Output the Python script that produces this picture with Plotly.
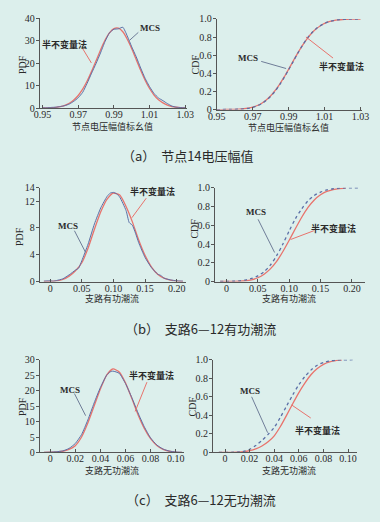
import plotly.graph_objects as go

W, H = 380, 522

# ---------------- data ----------------
# (a) node 14 voltage magnitude
a_x = [0.950, 0.9525, 0.955, 0.9575, 0.960, 0.9625, 0.965, 0.9675, 0.970, 0.9725,
       0.975, 0.9775, 0.980, 0.9825, 0.985, 0.9875, 0.990, 0.9925, 0.995, 0.9975,
       1.000, 1.0025, 1.005, 1.0075, 1.010, 1.0125, 1.015, 1.0175, 1.020, 1.0225,
       1.025, 1.0275, 1.030]
a_pdf_semi = [0.04, 0.08, 0.18, 0.36, 0.68, 1.24, 2.17, 3.59, 5.6, 8.4,
              12.0, 16.3, 21.0, 25.8, 30.1, 33.4, 35.3, 35.5, 33.9, 30.6,
              26.4, 21.6, 16.8, 12.4, 8.7, 5.8, 3.7, 2.3, 1.3, 0.7,
              0.37, 0.18, 0.09]
a_pdf_mcs = [0.1, 0.1, 0.3, 0.4, 0.7, 1.1, 1.8, 3.0, 4.6, 7.0,
             11.0, 15.5, 19.8, 24.5, 29.5, 33.4, 35.0, 35.2, 35.9, 32.0,
             27.2, 22.8, 17.8, 13.2, 9.5, 6.5, 4.5, 3.3, 2.0, 0.9,
             0.4, 0.2, 0.1]
a_cdf_semi = [0.0001, 0.0002, 0.0006, 0.0012, 0.0025, 0.0048, 0.009, 0.016, 0.027, 0.045,
              0.070, 0.106, 0.152, 0.211, 0.281, 0.360, 0.447, 0.535, 0.623, 0.704,
              0.776, 0.837, 0.886, 0.923, 0.951, 0.970, 0.982, 0.990, 0.9945, 0.997,
              0.9986, 0.9993, 0.9997]
a_cdf_mcs = [0.0002, 0.0003, 0.0007, 0.0013, 0.0025, 0.0045, 0.008, 0.014, 0.025, 0.041,
             0.066, 0.101, 0.147, 0.205, 0.275, 0.355, 0.442, 0.530, 0.620, 0.703,
             0.777, 0.839, 0.888, 0.925, 0.952, 0.971, 0.983, 0.991, 0.995, 0.997,
             0.9987, 0.9994, 0.9998]

# (b) branch 6-12 active power flow
b_x_semi = [-0.01, 0.00, 0.01, 0.02, 0.03, 0.04, 0.05, 0.06, 0.07, 0.08, 0.09,
            0.10, 0.11, 0.12, 0.13, 0.14, 0.15, 0.16, 0.17, 0.18, 0.19, 0.20, 0.21]
b_pdf_semi = [0.0, 0.02, 0.1, 0.3, 0.8, 1.6, 2.8, 5.0, 7.8, 10.4, 12.3,
              13.2, 12.9, 11.2, 8.9, 6.2, 3.9, 2.2, 1.1, 0.5, 0.2, 0.06, 0.02]
b_x_mcs = [-0.01, 0.00, 0.005, 0.01, 0.02, 0.03, 0.04, 0.045, 0.05, 0.06, 0.07, 0.08,
           0.09, 0.095, 0.10, 0.105, 0.11, 0.12, 0.125, 0.13, 0.135, 0.14, 0.15,
           0.16, 0.17, 0.175, 0.18, 0.19, 0.20, 0.21]
b_pdf_mcs = [0.05, 0.1, 0.05, 0.15, 0.4, 1.0, 1.7, 2.0, 3.1, 5.6, 8.6, 11.0,
             12.7, 13.2, 13.3, 13.1, 12.6, 10.6, 8.8, 8.4, 7.2, 5.8, 3.6,
             2.1, 1.1, 0.9, 0.5, 0.25, 0.1, 0.05]
b_cx_semi = [-0.01, 0.00, 0.01, 0.02, 0.03, 0.04, 0.05, 0.06, 0.07, 0.08, 0.09,
             0.10, 0.11, 0.12, 0.13, 0.14, 0.15, 0.16, 0.17, 0.18, 0.19]
b_cdf_semi = [0.0, 0.0, 0.001, 0.003, 0.008, 0.018, 0.04, 0.078, 0.135, 0.215, 0.32,
              0.44, 0.565, 0.685, 0.79, 0.87, 0.925, 0.96, 0.98, 0.991, 0.996]
b_cx_mcs = [-0.01, 0.00, 0.01, 0.02, 0.03, 0.04, 0.05, 0.06, 0.07, 0.08, 0.09,
            0.10, 0.11, 0.12, 0.13, 0.14, 0.15, 0.16, 0.17, 0.18, 0.19, 0.20, 0.21]
b_cdf_mcs = [0.0, 0.001, 0.003, 0.007, 0.016, 0.033, 0.06, 0.105, 0.175, 0.275, 0.40,
             0.54, 0.67, 0.775, 0.86, 0.918, 0.953, 0.976, 0.989, 0.995, 0.998, 0.999, 1.0]

# (c) branch 6-12 reactive power flow
c_x_semi = [-0.005, 0.00, 0.005, 0.01, 0.015, 0.02, 0.025, 0.03, 0.035, 0.04, 0.045,
            0.05, 0.055, 0.06, 0.065, 0.07, 0.075, 0.08, 0.085, 0.09, 0.095, 0.10, 0.105]
c_pdf_semi = [0.0, 0.1, 0.2, 0.4, 1.0, 2.2, 5.0, 9.5, 15.0, 20.5, 25.0,
              27.0, 26.0, 22.5, 17.5, 12.2, 7.8, 4.5, 2.3, 1.0, 0.4, 0.15, 0.05]
c_x_mcs = [-0.005, 0.00, 0.005, 0.01, 0.015, 0.02, 0.025, 0.03, 0.035, 0.04, 0.045,
           0.0475, 0.05, 0.055, 0.06, 0.065, 0.07, 0.075, 0.08, 0.085, 0.09, 0.095,
           0.10, 0.105]
c_pdf_mcs = [0.05, 0.1, 0.25, 0.5, 1.3, 2.9, 5.8, 10.5, 16.0, 21.0, 25.0,
             26.0, 26.3, 25.6, 22.3, 17.8, 12.8, 8.3, 4.7, 2.4, 1.1, 0.45,
             0.15, 0.05]
c_cx_semi = [-0.005, 0.00, 0.005, 0.01, 0.015, 0.02, 0.025, 0.03, 0.035, 0.04, 0.045,
             0.05, 0.055, 0.06, 0.065, 0.07, 0.075, 0.08, 0.085, 0.09, 0.095]
c_cdf_semi = [0.0, 0.0, 0.001, 0.003, 0.008, 0.02, 0.04, 0.07, 0.115, 0.18, 0.28,
              0.40, 0.525, 0.645, 0.75, 0.84, 0.905, 0.95, 0.977, 0.991, 0.997]
c_cx_mcs = [-0.005, 0.00, 0.005, 0.01, 0.015, 0.02, 0.025, 0.03, 0.035, 0.04, 0.045,
            0.05, 0.055, 0.06, 0.065, 0.07, 0.075, 0.08, 0.085, 0.09, 0.095, 0.10, 0.105]
c_cdf_mcs = [0.0, 0.001, 0.002, 0.005, 0.012, 0.035, 0.075, 0.13, 0.195, 0.27, 0.38,
             0.50, 0.62, 0.73, 0.82, 0.89, 0.94, 0.97, 0.986, 0.994, 0.998, 0.999, 1.0]

a_xticks = [0.95, 0.97, 0.99, 1.01, 1.03]
a_xlabels = ["0.95", "0.97", "0.99", "1.01", "1.03"]
b_xticks = [0, 0.05, 0.10, 0.15, 0.20]
b_xlabels = ["0", "0.05", "0.10", "0.15", "0.20"]
c_xticks = [0, 0.02, 0.04, 0.06, 0.08, 0.10]
c_xlabels = ["0", "0.02", "0.04", "0.06", "0.08", "0.10"]
pdf_a_yticks = [0, 10, 20, 30, 40]
pdf_b_yticks = [0, 4, 8, 12, 14]
pdf_c_yticks = [0, 5, 10, 15, 20, 25, 30]
cdf_yticks = [0, 0.2, 0.4, 0.6, 0.8, 1.0]
cdf_ylabels = ["0", "0.2", "0.4", "0.6", "0.8", "1.0"]

captions = ["（a）  节点14电压幅值", "（b）  支路6—12有功潮流", "（c）  支路6—12无功潮流"]
xtitles = ["节点电压幅值标幺值", "支路有功潮流", "支路无功潮流"]
name_semi = "半不变量法"
name_mcs = "MCS"

# ---------------- style ----------------
BG = "#dcefec"
RED = "#e8736c"
BLUE = "#5b6fa6"
TXT = "#2a2a2a"
SERIF = "Liberation Serif, Times New Roman, serif"
CJK = "Noto Sans CJK SC, sans-serif"

def px(xp):
    return xp / W

def py(yp):
    return 1 - yp / H

# panel geometry in pixels: (x0, x1, ytop, ybottom, xrange, yrange)
panels = [
    (32, 186, 12.3, 104.5, [0.94839, 1.03107], [0, 40]),
    (217, 369, 13.3, 106.0, [0.95, 1.03107], [0, 1]),
    (32, 185, 186, 282, [-0.01667, 0.21515], [0, 14]),
    (215, 372, 186, 282, [-0.01832, 0.22137], [0, 1]),
    (32, 183, 362, 457, [-0.0084, 0.10687], [0, 30]),
    (213, 363, 362, 457, [-0.00973, 0.10700], [0, 1]),
]
xticks = [(a_xticks, a_xlabels), (a_xticks, a_xlabels), (b_xticks, b_xlabels),
          (b_xticks, b_xlabels), (c_xticks, c_xlabels), (c_xticks, c_xlabels)]
yticks = [(pdf_a_yticks, [str(v) for v in pdf_a_yticks]), (cdf_yticks, cdf_ylabels),
          (pdf_b_yticks, [str(v) for v in pdf_b_yticks]), (cdf_yticks, cdf_ylabels),
          (pdf_c_yticks, [str(v) for v in pdf_c_yticks]), (cdf_yticks, cdf_ylabels)]

fig = go.Figure()

series = [
    (a_x, a_pdf_semi, a_x, a_pdf_mcs, False),
    (a_x, a_cdf_semi, a_x, a_cdf_mcs, True),
    (b_x_semi, b_pdf_semi, b_x_mcs, b_pdf_mcs, False),
    (b_cx_semi, b_cdf_semi, b_cx_mcs, b_cdf_mcs, True),
    (c_x_semi, c_pdf_semi, c_x_mcs, c_pdf_mcs, False),
    (c_cx_semi, c_cdf_semi, c_cx_mcs, c_cdf_mcs, True),
]

layout = {}
for i, (p, s, xt, yt) in enumerate(zip(panels, series, xticks, yticks)):
    k = i + 1
    xa = "x" if k == 1 else f"x{k}"
    ya = "y" if k == 1 else f"y{k}"
    x0, x1, yt0, yb0, xr, yr = p
    sx, sy, mx, my, is_cdf = s
    fig.add_trace(go.Scatter(x=sx, y=sy, mode="lines", name=name_semi,
                             line=dict(color=RED, width=1.3, shape="spline", smoothing=0.6),
                             xaxis=xa, yaxis=ya, showlegend=False))
    fig.add_trace(go.Scatter(x=mx, y=my, mode="lines", name=name_mcs,
                             line=dict(color=BLUE, width=1.0 if not is_cdf else 1.3,
                                       dash="dot" if is_cdf else "solid",
                                       shape="spline", smoothing=0.5 if not is_cdf else 0.8),
                             xaxis=xa, yaxis=ya, showlegend=False))
    common = dict(showgrid=False, zeroline=False, showline=True, linecolor="#555",
                  linewidth=1, tickcolor="#555",
                  tickfont=dict(family=SERIF, size=10, color=TXT), fixedrange=True)
    layout["xaxis" if k == 1 else f"xaxis{k}"] = dict(
        domain=[px(x0), px(x1)], range=xr, anchor=ya, tickvals=xt[0], ticktext=xt[1],
        ticks="inside", ticklen=3, ticklabelstandoff=-3, **common)
    layout["yaxis" if k == 1 else f"yaxis{k}"] = dict(
        domain=[py(yb0), py(yt0)], range=yr, anchor=xa, tickvals=yt[0], ticktext=yt[1],
        ticks="outside", ticklen=3, ticklabelstandoff=-1, **common)

ann = []
def text(xp, yp, t, size=9, font=SERIF, angle=0, bold=False, color=TXT):
    ann.append(dict(x=px(xp), y=py(yp), xref="paper", yref="paper", text=f"<b>{t}</b>" if bold else t,
                    showarrow=False, textangle=angle, xanchor="center", yanchor="middle",
                    font=dict(family=font, size=size, color=color)))

# axis titles
text(108, 123, xtitles[0], size=9, font=CJK)
text(292, 124, xtitles[0], size=9, font=CJK)
text(108, 299, xtitles[1], size=9, font=CJK)
text(292, 299, xtitles[1], size=9, font=CJK)
text(108, 475, xtitles[2], size=9, font=CJK)
text(292, 475, xtitles[2], size=9, font=CJK)
for (xp, yp, t) in [(14, 60, "PDF"), (195, 60, "CDF"), (11, 236, "PDF"), (194, 228, "CDF"),
                    (14, 410, "PDF"), (192, 410, "CDF")]:
    text(xp, yp, t, size=10, angle=-90)
# captions
text(187, 153, captions[0], size=13, font=CJK)
text(200, 330, captions[1], size=13, font=CJK)
text(200, 505, captions[2], size=13, font=CJK)

# series labels with leader lines
labels = [
    # (text x, text y, name, color, line x0, y0, x1, y1)
    (147, 22.7, name_mcs, "#6f7d98", 135, 27, 126, 35),
    (58, 39.5, name_semi, RED, 76.7, 43.3, 86, 58.3),
    (249, 53.3, name_mcs, "#6f7d98", 263.3, 56.7, 289.3, 64),
    (347, 62, name_semi, RED, 338.3, 53.3, 310, 31.7),
    (150, 190, name_semi, RED, 143.3, 196.7, 128.3, 216.7),
    (61.7, 225, name_mcs, "#6f7d98", 68.3, 230, 80, 252.3),
    (258.3, 211, name_mcs, "#6f7d98", 260, 218.3, 277.3, 252.3),
    (338.3, 227.7, name_semi, RED, 318.3, 230, 294, 239),
    (148.3, 378.3, name_semi, RED, 144, 385, 131.7, 415),
    (63.3, 392.7, name_mcs, "#6f7d98", 68.3, 396.7, 80, 419.3),
    (251.7, 394, name_mcs, "#6f7d98", 253.3, 400, 270, 436.7),
    (321.7, 434, name_semi, RED, 315, 421.7, 295, 408.3),
]
shapes = []
for (tx, ty, t, col, lx0, ly0, lx1, ly1) in labels:
    text(tx, ty, t, size=9, font=(SERIF if t == name_mcs else CJK), bold=True)
    shapes.append(dict(type="line", xref="paper", yref="paper", x0=px(lx0), y0=py(ly0),
                       x1=px(lx1), y1=py(ly1), line=dict(color=col, width=1)))

fig.update_layout(width=W, height=H, margin=dict(l=0, r=0, t=0, b=0),
                  paper_bgcolor=BG, plot_bgcolor=BG, annotations=ann, shapes=shapes,
                  showlegend=False, **layout)
fig.write_html("out.html", config={"displayModeBar": False},
               post_script="document.body.style.margin='0';document.body.style.background='%s';" % BG)
